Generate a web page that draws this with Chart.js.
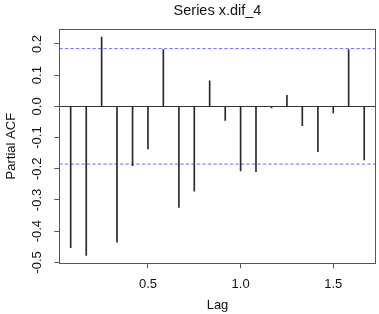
<!DOCTYPE html>
<html>
<head>
<meta charset="utf-8">
<script src="https://cdn.jsdelivr.net/npm/chart.js@4/dist/chart.umd.min.js"></script>
<style>
  body { margin: 0; background: #fff; }
  #grafico { display: block; }
</style>
</head>
<body>
<canvas id="grafico" width="379" height="314"></canvas>
<script>
// Lags (ano = 1, dados mensais)
const lags = [0.083, 0.167, 0.25, 0.333, 0.417, 0.5, 0.583, 0.667, 0.75, 0.833,
              0.917, 1.0, 1.083, 1.167, 1.25, 1.333, 1.417, 1.5, 1.583, 1.667];
// Valores da PACF
const pacf = [-0.453, -0.478, 0.222, -0.435, -0.190, -0.136, 0.182, -0.324, -0.272, 0.082,
              -0.045, -0.207, -0.209, -0.005, 0.035, -0.062, -0.145, -0.021, 0.182, -0.172];
// Limite do intervalo de confiança
const limiteIC = 0.185;
// Marcas dos eixos
const ticksX = [0.5, 1.0, 1.5];
const ticksY = [-0.5, -0.4, -0.3, -0.2, -0.1, 0.0, 0.1, 0.2];
const limitesX = [0.0216, 1.729];
const limitesY = [-0.503, 0.248];

const fonte = '"Liberation Sans", Arial, sans-serif';
const corTexto = '#111';
const corEixo = '#555';

// Moldura em volta da área do gráfico e rótulos verticais do eixo y
const pluginMoldura = {
    id: 'moldura',
    afterDraw(chart) {
        const ctx = chart.ctx;
        const area = chart.chartArea;
        ctx.save();
        ctx.strokeStyle = corEixo;
        ctx.lineWidth = 1;
        ctx.strokeRect(Math.round(area.left) + 0.5, Math.round(area.top) + 0.5,
                       Math.round(area.right - area.left), Math.round(area.bottom - area.top));

        // rótulos do eixo y girados (como no R)
        const escalaY = chart.scales.y;
        ctx.fillStyle = corTexto;
        ctx.font = '13px ' + fonte;
        ctx.textAlign = 'center';
        ctx.textBaseline = 'middle';
        escalaY.ticks.forEach(t => {
            const py = escalaY.getPixelForValue(t.value);
            ctx.save();
            ctx.translate(escalaY.right - 22, py);
            ctx.rotate(-Math.PI / 2);
            ctx.fillText(t.value.toFixed(1), 0, 0);
            ctx.restore();
        });
        ctx.restore();
    }
};

const linhaIC = v => [{ x: limitesX[0], y: v }, { x: limitesX[1], y: v }];

new Chart(document.getElementById('grafico').getContext('2d'), {
    data: {
        datasets: [
            {
                type: 'bar',
                data: lags.map((l, i) => ({ x: l, y: pacf[i] })),
                backgroundColor: '#2a2a2a',
                borderWidth: 0,
                barThickness: 1
            },
            {
                type: 'line',
                data: linhaIC(limiteIC),
                borderColor: '#6a6aff',
                borderWidth: 1,
                borderDash: [3.5, 2],
                pointRadius: 0
            },
            {
                type: 'line',
                data: linhaIC(-limiteIC),
                borderColor: '#6a6aff',
                borderWidth: 1,
                borderDash: [3.5, 2],
                pointRadius: 0
            }
        ]
    },
    options: {
        responsive: false,
        devicePixelRatio: 1,
        animation: false,
        layout: { padding: { left: 0, right: 3.3, top: 0, bottom: 0 } },
        plugins: {
            legend: { display: false },
            tooltip: { enabled: false },
            title: {
                display: true,
                text: 'Series x.dif_4',
                fullSize: false,
                color: corTexto,
                font: { family: fonte, size: 14.5, weight: 'normal' },
                padding: { top: 2, bottom: 9.6 }
            }
        },
        scales: {
            x: {
                type: 'linear',
                offset: false,
                min: limitesX[0],
                max: limitesX[1],
                afterBuildTicks: escala => { escala.ticks = ticksX.map(v => ({ value: v })); },
                afterFit: escala => { escala.height = 50.7; },
                border: { display: false },
                grid: { offset: false, drawOnChartArea: false, tickLength: 5, tickColor: corEixo },
                ticks: {
                    color: corTexto,
                    font: { family: fonte, size: 13 },
                    padding: 8,
                    maxRotation: 0,
                    callback: v => v.toFixed(1)
                },
                title: {
                    display: true,
                    text: 'Lag',
                    color: corTexto,
                    font: { family: fonte, size: 13 },
                    padding: { top: 0, bottom: 1 }
                }
            },
            y: {
                type: 'linear',
                min: limitesY[0],
                max: limitesY[1],
                afterBuildTicks: escala => { escala.ticks = ticksY.map(v => ({ value: v })); },
                afterFit: escala => { escala.width = 59.3; },
                border: { display: false },
                grid: {
                    tickLength: 5,
                    tickColor: corEixo,
                    color: c => (c.tick && Math.abs(c.tick.value) < 1e-9) ? '#333' : 'rgba(0,0,0,0)'
                },
                ticks: { display: false },
                title: {
                    display: true,
                    text: 'Partial ACF',
                    color: corTexto,
                    font: { family: fonte, size: 13 },
                    padding: { top: 4, bottom: 0 }
                }
            }
        }
    },
    plugins: [pluginMoldura]
});
</script>
</body>
</html>
